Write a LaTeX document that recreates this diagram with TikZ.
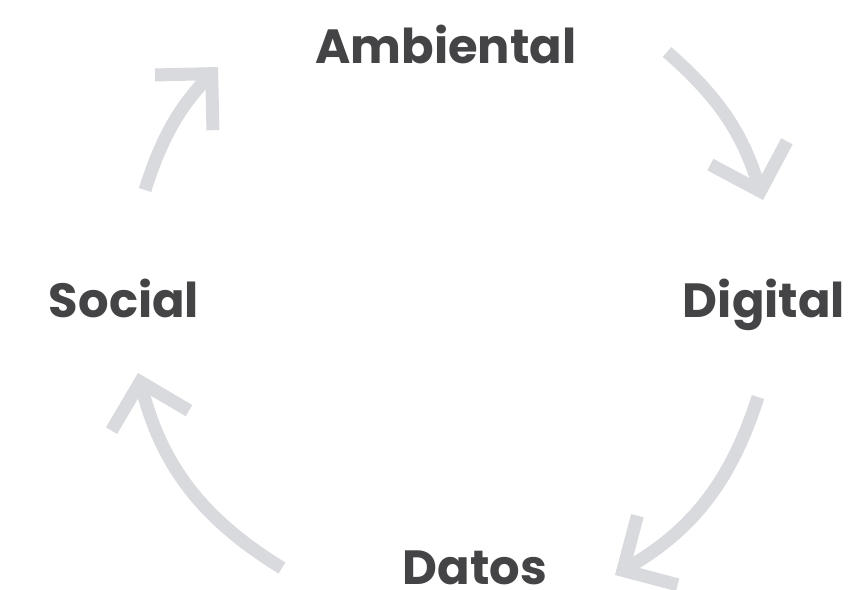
\documentclass[tikz,border=0pt]{standalone}
\usepackage{fontspec}
\setmainfont{Poppins}
\usetikzlibrary{arrows.meta}

\definecolor{cycgray}{RGB}{217,218,222}
\definecolor{labgray}{RGB}{68,68,70}

\begin{document}
\begin{tikzpicture}[
  x=1pt, y=1pt,
  label/.style={anchor=base, inner sep=0pt, text=labgray, font=\fontsize{48}{48}\selectfont\bfseries},
  cycle/.style={draw=cycgray, line width=13pt, -{Straight Barb[length=40pt 0, width=80pt 0]}}
]
\useasboundingbox (0,0) rectangle (851,-589);

% Labels
\node[label] (amb) at (446,-63) {Ambiental};
\node[label] (dig) at (764,-317) {Digital};
\node[label] (dat) at (475,-584) {Datos};
\node[label] (soc) at (124,-317) {Social};

% Arrow ends
\coordinate (a1s) at (667,-52);
\coordinate (a1e) at (763,-200);
\coordinate (a2s) at (758,-397);
\coordinate (a2e) at (615,-575);
\coordinate (a3s) at (282,-568);
\coordinate (a3e) at (138,-373);
\coordinate (a4s) at (145,-190);
\coordinate (a4e) at (218,-67);

% Cycle arrows
\draw[cycle] (a1s) to[bend left=16] (a1e);
\draw[cycle] (a2s) to[bend left=21] (a2e);
\draw[cycle] (a3s) to[bend left=22] (a3e);
\draw[cycle] (a4s) to[bend left=13] (a4e);

\end{tikzpicture}
\end{document}
